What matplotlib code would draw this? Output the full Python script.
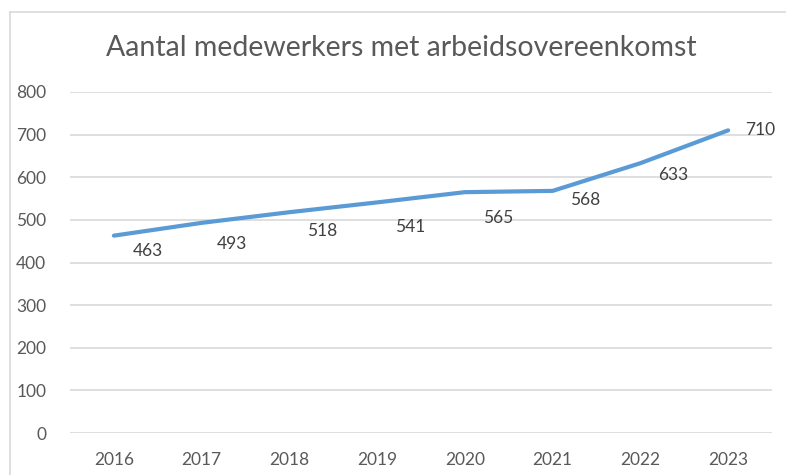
import matplotlib.pyplot as plt
from matplotlib.lines import Line2D

years = ['2016', '2017', '2018', '2019', '2020', '2021', '2022', '2023']
employees = [463, 493, 518, 541, 565, 568, 633, 710]
y_ticks = [0, 100, 200, 300, 400, 500, 600, 700, 800]

# label offsets in pixels (right, down) as placed in the original chart
label_dx = [34, 30, 33, 33, 33, 33, 33, 32]
label_dy = [15, 21, 19, 25, 26, 9, 12, 0]

plt.rcParams['font.family'] = ['Lato', 'DejaVu Sans']
text_color = '#595959'
grid_color = '#d9d9d9'

fig = plt.figure(figsize=(7.86, 4.75), dpi=100)
ax = fig.add_axes([70 / 786, 1 - 433 / 475, 702 / 786, (433 - 92) / 475])

x = list(range(len(years)))
ax.plot(x, employees, color='#5b9bd5', linewidth=3, solid_capstyle='round',
        solid_joinstyle='round', zorder=3)

for i, v in enumerate(employees):
    ax.annotate(str(v), (x[i], v), xytext=(label_dx[i] * 0.72, -label_dy[i] * 0.72),
                textcoords='offset points', ha='center', va='center',
                fontsize=12.5, color='#404040')

ax.set_xlim(-0.5, len(years) - 0.5)
ax.set_ylim(0, 800)
ax.set_yticks(y_ticks)
ax.set_xticks(x)
ax.set_xticklabels(years)
ax.yaxis.grid(True, color=grid_color, linewidth=1.2)
ax.set_axisbelow(True)
for s in ax.spines.values():
    s.set_visible(False)
ax.tick_params(axis='both', length=0, labelsize=12.5, colors=text_color)
ax.tick_params(axis='y', pad=17)
ax.tick_params(axis='x', pad=14)

fig.text(401 / 786, 1 - 48 / 475, 'Aantal medewerkers met arbeidsovereenkomst',
         ha='center', va='center', fontsize=20.5, color=text_color)

# chart area border (left and top visible in the screenshot)
fig.add_artist(Line2D([10 / 786, 10 / 786], [0, 1 - 12 / 475], transform=fig.transFigure,
                      color=grid_color, linewidth=1.2))
fig.add_artist(Line2D([10 / 786, 1], [1 - 12 / 475, 1 - 12 / 475], transform=fig.transFigure,
                      color=grid_color, linewidth=1.2))

fig.savefig('out.png', dpi=100)
